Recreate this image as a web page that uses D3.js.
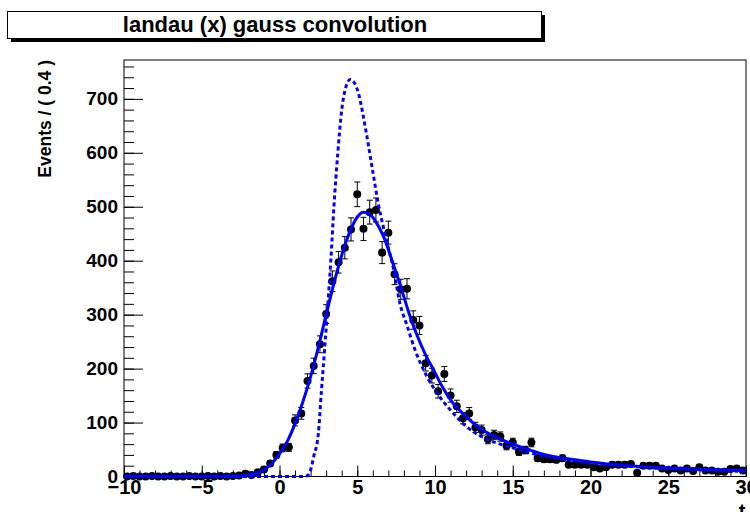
<!DOCTYPE html>
<html>
<head>
<meta charset="utf-8">
<script src="https://cdn.jsdelivr.net/npm/d3@7"></script>
<style>
    body { margin: 0; background: #fff; }
    svg { font-family: "Liberation Sans", Arial, sans-serif; font-weight: bold; }
</style>
</head>
<body>
<div id="chart"></div>
<script>

// Histogram of t, 100 bins of width 0.4 from -10 to 30 (bin centres)
const binCenters = d3.range(100).map(i => -9.8 + 0.4 * i);
const binCounts = [
    0, 1, 0, 0, 1, 0, 0, 1, 0, 0,
    1, 0, 0, 1, 0, 1, 0, 1, 2, 5,
    3, 8, 13, 24, 40, 53, 54, 104, 117, 177,
    205, 245, 301, 362, 397, 424, 458, 523, 459, 490,
    494, 415, 452, 375, 347, 348, 290, 280, 210, 187,
    158, 190, 150, 130, 108, 117, 91, 86, 69, 77,
    74, 57, 63, 46, 49, 63, 34, 32, 32, 31,
    34, 22, 22, 22, 22, 17, 15, 17, 22, 22,
    22, 23, 7, 20, 20, 20, 15, 12, 15, 11,
    15, 10, 17, 11, 11, 9, 9, 14, 15, 11
];

// Fitted landau (x) gauss model
const fitX = [-10, -5, -3, -2, -1.5, -1, -0.5, 0, 0.5, 1, 1.5, 2, 2.5, 3, 3.5, 4, 4.5, 5, 5.4, 5.8, 6.2, 6.7, 7.3, 7.8, 8.3, 8.8, 9.4, 9.9, 10.5, 11, 12, 13, 14, 15, 16, 17, 18, 19, 20, 22, 24, 26, 28, 30];
const fitY = [0.5, 0.5, 1, 3, 6, 12, 24, 42, 65, 98, 138, 185, 240, 300, 358, 410, 452, 481, 490, 486, 472, 444, 395, 352, 305, 265, 225, 198, 165, 142, 111, 87, 72, 60, 50, 41, 35, 31, 27, 21, 17, 14.5, 12.5, 11];

// Pure landau component (dashed)
const landauX = [-10, 1.6, 1.85, 2.0, 2.2, 2.5, 2.7, 2.9, 3.1, 3.3, 3.5, 3.75, 4.0, 4.25, 4.55, 4.85, 5.1, 5.4, 5.7, 6.0, 6.35, 6.7, 7.0, 7.3, 7.75, 8.2, 8.7, 9.4, 10.2, 11, 12, 13.2, 14.3, 15, 16, 17, 18, 19, 20, 22, 24, 26, 28, 30];
const landauY = [0, 0, 3, 12, 37, 80, 160, 235, 315, 400, 500, 600, 679, 720, 736, 728, 708, 666, 617, 565, 506, 460, 424, 389, 320, 280, 236, 190, 152, 123, 93, 71, 59, 53, 45, 38, 33, 29, 25, 20, 16, 13.5, 11.5, 10];

const xMajorTicks = [-10, -5, 0, 5, 10, 15, 20, 25, 30];
const yMajorTicks = [0, 100, 200, 300, 400, 500, 600, 700];

const chartTitle = "landau (x) gauss convolution";
const yTitle = "Events / ( 0.4 )";
const xTitle = "t";

const width = 750, height = 512;
const frame = { left: 124, right: 746, top: 60, bottom: 476.5 };

const svg = d3.select("#chart").append("svg")
    .attr("width", width)
    .attr("height", height);

// Scales
const x = d3.scaleLinear().domain([-10, 30]).range([frame.left, frame.right]);
const y = d3.scaleLinear().domain([0, 772]).range([frame.bottom, frame.top]);

// Title box with shadow
svg.append("rect")
    .attr("x", 11).attr("y", 15)
    .attr("width", 534).attr("height", 27)
    .attr("fill", "#000");
svg.append("rect")
    .attr("x", 7.5).attr("y", 11.5)
    .attr("width", 534).attr("height", 27)
    .attr("fill", "#fff")
    .attr("stroke", "#000");
svg.append("text")
    .attr("x", 275).attr("y", 32)
    .attr("text-anchor", "middle")
    .style("font-size", "22px")
    .text(chartTitle);

// Frame
svg.append("rect")
    .attr("x", frame.left).attr("y", frame.top)
    .attr("width", frame.right - frame.left)
    .attr("height", frame.bottom - frame.top)
    .attr("fill", "none")
    .attr("stroke", "#000");

// Axes, ticks inside the frame like ROOT
const xMinor = svg.append("g")
    .attr("transform", `translate(0,${frame.bottom})`)
    .call(d3.axisBottom(x).tickValues(d3.range(-10, 31, 1)).tickSize(-6).tickFormat(""));
const xAxis = svg.append("g")
    .attr("transform", `translate(0,${frame.bottom})`)
    .call(d3.axisBottom(x).tickValues(xMajorTicks).tickSize(-11).tickPadding(3).tickFormat(d3.format("d")));
xAxis.selectAll("text").style("font-size", "20px").attr("fill", "#000");

const yMinor = svg.append("g")
    .attr("transform", `translate(${frame.left},0)`)
    .call(d3.axisLeft(y).tickValues(d3.range(0, 771, 20)).tickSize(-10).tickFormat(""));
const yAxis = svg.append("g")
    .attr("transform", `translate(${frame.left},0)`)
    .call(d3.axisLeft(y).tickValues(yMajorTicks).tickSize(-19).tickPadding(6).tickFormat(d3.format("d")));
yAxis.selectAll("text").style("font-size", "19px").attr("fill", "#000");

[xMinor, xAxis, yMinor, yAxis].forEach(g => {
    g.select(".domain").remove();
    g.selectAll("line").attr("stroke", "#000");
    g.attr("font-family", null).attr("font-size", null);
});

// Axis titles
svg.append("text")
    .attr("transform", `translate(51,${frame.top}) rotate(-90)`)
    .attr("text-anchor", "end")
    .style("font-size", "17.5px")
    .text(yTitle);

svg.append("text")
    .attr("x", 742).attr("y", 518)
    .attr("text-anchor", "middle")
    .style("font-size", "20px")
    .text(xTitle);

// Data points with poisson error bars
const points = binCenters.map((c, i) => ({ c: c, n: binCounts[i] }));

const errs = svg.append("g").attr("stroke", "#000").attr("stroke-width", 1);
errs.selectAll(".ebar")
    .data(points.filter(d => d.n > 0))
    .join("path")
    .attr("class", "ebar")
    .attr("fill", "none")
    .attr("d", d => {
        const cx = x(d.c);
        const lo = y(d.n - Math.sqrt(d.n)), hi = y(d.n + Math.sqrt(d.n));
        return `M${cx},${lo}V${hi}M${cx - 3},${lo}H${cx + 3}M${cx - 3},${hi}H${cx + 3}`;
    });

svg.selectAll(".dot")
    .data(points)
    .join("circle")
    .attr("class", "dot")
    .attr("cx", d => x(d.c))
    .attr("cy", d => y(d.n))
    .attr("r", 4)
    .attr("fill", "#000");

// Curves
const line = d3.line()
    .x(d => x(d[0]))
    .y(d => y(d[1]))
    .curve(d3.curveMonotoneX);

svg.append("path")
    .datum(fitX.map((v, i) => [v, fitY[i]]))
    .attr("d", line)
    .attr("fill", "none")
    .attr("stroke", "#0000ff")
    .attr("stroke-width", 3);

svg.append("path")
    .datum(landauX.map((v, i) => [v, landauY[i]]))
    .attr("d", line)
    .attr("fill", "none")
    .attr("stroke", "#0000ff")
    .attr("stroke-width", 3)
    .attr("stroke-dasharray", "4,3");

</script>
</body>
</html>
